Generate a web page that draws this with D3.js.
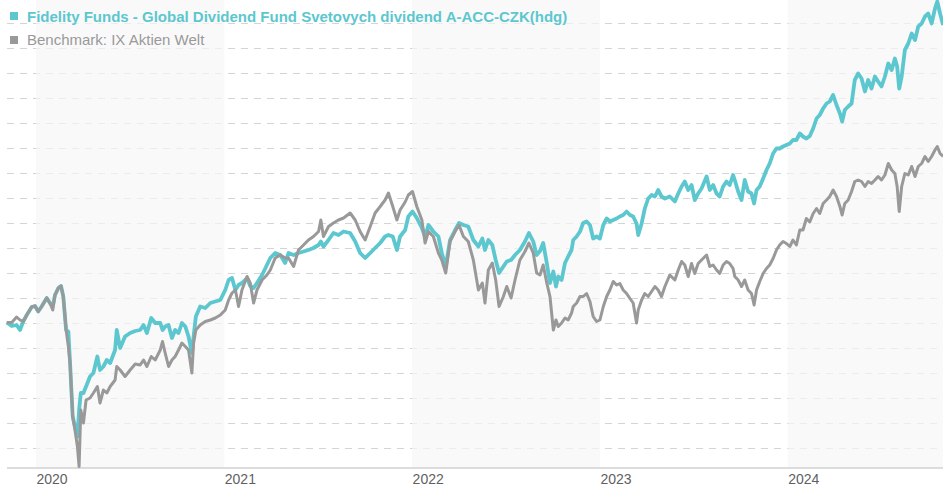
<!DOCTYPE html>
<html>
<head>
<meta charset="utf-8">
<script src="https://cdn.jsdelivr.net/npm/d3@7"></script>
<style>
  body { margin: 0; background: #fff; }
  svg { display: block; font-family: "Liberation Sans", Arial, sans-serif; }
</style>
</head>
<body>
<svg class="perf-chart"></svg>
<script>
// dates as decimal years
var dates = [2019.844, 2019.871, 2019.897, 2019.915, 2019.932, 2019.951, 2019.977, 2019.995, 2020.012, 2020.030,
  2020.057, 2020.074, 2020.089, 2020.101, 2020.119, 2020.133, 2020.145, 2020.160, 2020.172, 2020.181,
  2020.195, 2020.207, 2020.220, 2020.229, 2020.238, 2020.252, 2020.266, 2020.287, 2020.305, 2020.326,
  2020.340, 2020.358, 2020.376, 2020.394, 2020.420, 2020.429, 2020.447, 2020.473, 2020.500, 2020.527,
  2020.553, 2020.571, 2020.589, 2020.612, 2020.633, 2020.660, 2020.672, 2020.686, 2020.704, 2020.722,
  2020.739, 2020.757, 2020.775, 2020.793, 2020.810, 2020.828, 2020.837, 2020.849, 2020.872, 2020.899,
  2020.926, 2020.952, 2020.979, 2021.005, 2021.023, 2021.041, 2021.059, 2021.076, 2021.094, 2021.121,
  2021.138, 2021.156, 2021.174, 2021.201, 2021.227, 2021.245, 2021.271, 2021.298, 2021.324, 2021.342,
  2021.369, 2021.395, 2021.422, 2021.448, 2021.475, 2021.502, 2021.514, 2021.528, 2021.555, 2021.581,
  2021.608, 2021.635, 2021.670, 2021.697, 2021.723, 2021.750, 2021.777, 2021.803, 2021.830, 2021.856,
  2021.874, 2021.897, 2021.919, 2021.936, 2021.963, 2021.980, 2022.002, 2022.025, 2022.052, 2022.069,
  2022.087, 2022.113, 2022.140, 2022.158, 2022.179, 2022.202, 2022.229, 2022.250, 2022.273, 2022.299,
  2022.326, 2022.353, 2022.374, 2022.388, 2022.406, 2022.427, 2022.445, 2022.463, 2022.486, 2022.504,
  2022.527, 2022.548, 2022.574, 2022.601, 2022.622, 2022.645, 2022.663, 2022.681, 2022.698, 2022.717,
  2022.734, 2022.752, 2022.766, 2022.778, 2022.796, 2022.814, 2022.831, 2022.849, 2022.858, 2022.876,
  2022.894, 2022.911, 2022.929, 2022.947, 2022.964, 2022.982, 2023.000, 2023.018, 2023.036, 2023.053,
  2023.071, 2023.089, 2023.106, 2023.124, 2023.142, 2023.160, 2023.177, 2023.195, 2023.204, 2023.222,
  2023.239, 2023.257, 2023.275, 2023.293, 2023.310, 2023.328, 2023.346, 2023.372, 2023.399, 2023.417,
  2023.435, 2023.452, 2023.470, 2023.488, 2023.505, 2023.523, 2023.541, 2023.568, 2023.585, 2023.603,
  2023.621, 2023.638, 2023.656, 2023.674, 2023.691, 2023.709, 2023.718, 2023.736, 2023.754, 2023.771,
  2023.789, 2023.807, 2023.821, 2023.834, 2023.851, 2023.869, 2023.887, 2023.904, 2023.922, 2023.940,
  2023.957, 2023.975, 2023.993, 2024.011, 2024.028, 2024.046, 2024.064, 2024.081, 2024.099, 2024.117,
  2024.135, 2024.153, 2024.170, 2024.188, 2024.206, 2024.223, 2024.241, 2024.259, 2024.277, 2024.289,
  2024.303, 2024.321, 2024.339, 2024.356, 2024.374, 2024.392, 2024.410, 2024.427, 2024.445, 2024.463,
  2024.480, 2024.498, 2024.516, 2024.534, 2024.552, 2024.569, 2024.581, 2024.592, 2024.605, 2024.622,
  2024.640, 2024.658, 2024.676, 2024.693, 2024.711, 2024.729, 2024.746, 2024.764, 2024.782, 2024.794,
  2024.809, 2024.825];

// fund, indexed to 100
var fund = [100.1, 99.4, 99.6, 98.6, 100.3, 101.6, 103.2, 103.4, 102.3, 103.3,
  105.0, 104.0, 103.3, 105.6, 107.0, 107.4, 105.3, 98.6, 98.3, 92.0,
  81.3, 79.3, 77.3, 82.6, 86.0, 86.0, 87.3, 89.3, 90.0, 93.3,
  90.6, 91.3, 92.6, 92.0, 94.6, 98.6, 95.0, 97.3, 98.0, 98.4,
  98.6, 99.6, 98.0, 101.0, 100.0, 100.0, 98.6, 99.3, 99.6, 97.0,
  98.6, 98.0, 100.0, 99.3, 97.3, 94.0, 97.3, 101.3, 103.3, 103.0,
  104.0, 104.3, 104.6, 106.6, 108.6, 109.0, 106.6, 107.6, 108.0, 109.0,
  107.4, 107.0, 108.0, 109.6, 111.6, 113.0, 114.0, 113.6, 112.0, 114.0,
  113.6, 114.0, 114.3, 114.6, 115.0, 115.6, 116.3, 115.3, 116.6, 118.0,
  117.6, 118.3, 118.0, 116.3, 114.0, 113.0, 114.0, 115.0, 116.0, 117.3,
  117.6, 117.3, 114.6, 117.3, 118.6, 121.3, 122.3, 121.0, 119.0, 117.3,
  119.6, 118.3, 117.3, 114.0, 111.3, 116.6, 118.6, 120.0, 119.6, 119.3,
  116.6, 115.3, 116.9, 114.6, 116.6, 115.6, 112.6, 110.0, 111.3, 112.3,
  112.6, 113.6, 114.6, 116.3, 118.0, 116.3, 113.6, 114.4, 116.0, 112.0,
  108.0, 110.3, 107.3, 109.3, 108.6, 112.0, 113.3, 114.6, 116.6, 117.3,
  118.3, 120.0, 120.3, 119.6, 116.9, 117.3, 116.9, 119.6, 120.9, 120.3,
  120.6, 120.9, 121.3, 121.6, 122.3, 121.6, 121.3, 119.9, 117.6, 119.9,
  122.9, 124.9, 125.6, 125.3, 126.6, 125.3, 124.9, 125.3, 124.3, 125.9,
  127.3, 128.3, 126.6, 127.6, 124.6, 125.9, 126.9, 129.3, 126.6, 127.6,
  125.9, 125.3, 127.3, 128.3, 127.6, 129.6, 128.6, 126.3, 124.6, 128.6,
  126.3, 125.9, 123.9, 126.6, 127.3, 128.9, 130.6, 131.9, 133.9, 134.9,
  134.9, 135.3, 135.6, 135.9, 136.6, 136.6, 137.9, 137.3, 136.9, 137.4,
  138.9, 140.9, 141.6, 142.9, 143.9, 144.3, 145.6, 143.6, 141.9, 140.3,
  142.6, 143.3, 143.9, 148.6, 149.9, 148.9, 146.3, 148.6, 146.9, 149.3,
  148.3, 147.3, 149.3, 151.9, 150.6, 152.9, 151.3, 146.9, 149.3, 154.6,
  155.9, 157.9, 156.6, 159.3, 159.9, 161.3, 161.9, 159.9, 162.9, 164.3,
  161.9, 159.6];

// benchmark, indexed to 100
var bench = [100.1, 100.1, 101.2, 100.6, 100.3, 101.6, 103.2, 103.4, 102.3, 103.3,
  105.0, 104.0, 102.6, 105.6, 107.0, 107.4, 105.3, 98.6, 95.3, 92.0,
  81.3, 78.6, 75.3, 71.3, 82.6, 80.0, 84.6, 85.0, 86.0, 87.3,
  84.0, 86.6, 86.0, 87.3, 88.6, 91.3, 90.6, 89.3, 90.6, 91.8,
  91.6, 92.6, 91.3, 93.3, 92.6, 94.6, 96.3, 94.0, 91.3, 92.6,
  93.3, 94.6, 96.0, 95.3, 94.6, 90.0, 96.0, 98.6, 99.6, 100.3,
  100.6, 101.0, 101.6, 102.6, 104.6, 106.0, 106.6, 103.3, 106.6, 109.3,
  108.0, 104.0, 106.6, 108.6, 109.6, 110.6, 113.0, 113.6, 113.0, 113.0,
  111.3, 114.6, 115.6, 116.6, 117.3, 118.3, 120.6, 117.3, 119.3, 120.0,
  120.6, 121.0, 122.0, 120.6, 118.3, 116.6, 119.3, 122.0, 123.3, 124.6,
  126.0, 123.3, 120.6, 122.6, 124.2, 125.6, 126.3, 123.3, 120.6, 116.0,
  118.3, 117.3, 114.0, 112.6, 110.0, 116.3, 118.3, 119.6, 117.3, 116.3,
  112.6, 106.6, 108.0, 104.0, 110.6, 112.0, 108.6, 103.3, 105.3, 107.3,
  105.0, 108.6, 112.6, 114.3, 116.0, 114.0, 110.0, 109.6, 111.6, 108.0,
  105.3, 98.6, 100.6, 99.3, 100.0, 101.0, 100.6, 102.0, 103.3, 104.0,
  105.3, 105.3, 105.9, 104.3, 101.3, 100.3, 100.6, 103.3, 105.3, 106.6,
  108.3, 107.6, 107.9, 106.6, 105.9, 104.9, 104.0, 100.0, 102.6, 104.6,
  105.9, 105.3, 106.3, 107.3, 106.6, 105.3, 107.3, 109.6, 108.6, 110.6,
  112.3, 111.6, 109.3, 111.9, 109.9, 111.9, 112.6, 113.6, 111.3, 111.6,
  110.6, 109.9, 111.6, 112.3, 111.9, 110.9, 109.3, 108.6, 107.3, 108.6,
  106.6, 105.9, 103.6, 106.6, 108.3, 109.9, 110.9, 111.6, 112.9, 114.6,
  115.6, 116.3, 115.9, 115.3, 116.6, 115.6, 118.6, 118.6, 120.9, 120.2,
  121.9, 122.9, 121.9, 123.9, 124.6, 125.3, 126.6, 125.3, 123.3, 121.6,
  123.9, 124.6, 126.3, 128.3, 128.6, 128.3, 127.3, 128.3, 127.9, 128.6,
  129.3, 128.6, 129.6, 131.9, 130.6, 129.9, 127.3, 122.3, 127.3, 129.9,
  129.6, 131.3, 129.3, 131.3, 131.9, 133.3, 132.3, 133.3, 134.6, 135.3,
  133.9, 133.3];

var gridValues = d3.range(75, 161, 5);
var yearTicks = [2020, 2021, 2022, 2023, 2024];
var shadedYears = [2020, 2022, 2024];

var fundName = "Fidelity Funds - Global Dividend Fund Svetovych dividend A-ACC-CZK(hdg)";
var benchName = "Benchmark: IX Aktien Welt";
var fundColor = "#5cc7cf", benchColor = "#999999";

var svgWidth = 943, svgHeight = 487;
var plotLeft = 7, plotRight = 943, plotTop = 0, plotBottom = 468;

// decimal year -> Date
function toDate(t) {
  var y = Math.floor(t);
  var a = new Date(y, 0, 1).getTime(), b = new Date(y + 1, 0, 1).getTime();
  return new Date(a + (t - y) * (b - a));
}

var svg = d3.select('.perf-chart')
  .attr("width", svgWidth)
  .attr("height", svgHeight);

var xScale = d3.scaleTime()
  .domain([toDate(2019.8457), toDate(2024.8245)])
  .range([plotLeft, plotRight]);

var yScale = d3.scaleLinear()
  .domain([71, 164.6])
  .range([plotBottom, plotTop]);

// dashed grid
svg.append("g")
  .selectAll("line")
  .data(gridValues)
  .enter()
  .append("line")
  .attr("x1", plotLeft)
  .attr("x2", plotRight)
  .attr("y1", function (d) { return Math.round(yScale(d)) + 0.5; })
  .attr("y2", function (d) { return Math.round(yScale(d)) + 0.5; })
  .attr("stroke", "#d4d4d4")
  .attr("stroke-dasharray", "7,6");

// alternating year bands
svg.append("g")
  .selectAll("rect")
  .data(shadedYears)
  .enter()
  .append("rect")
  .attr("x", function (d) { return xScale(toDate(d)); })
  .attr("y", plotTop)
  .attr("width", function (d) {
    return Math.min(xScale(toDate(d + 1)), plotRight) - xScale(toDate(d));
  })
  .attr("height", plotBottom - plotTop)
  .attr("fill", "#f6f6f6")
  .attr("opacity", 0.7);

// x axis
var x_axis = d3.axisBottom()
  .scale(xScale)
  .tickValues(yearTicks.map(toDate))
  .tickSize(0)
  .tickFormat(d3.timeFormat("%Y"));

var xAxisG = svg.append("g")
  .attr("transform", "translate(0, " + plotBottom + ")")
  .call(x_axis);

xAxisG.select(".domain").remove();
xAxisG.selectAll("text")
  .attr("text-anchor", "start")
  .attr("dy", "0.71em")
  .attr("y", 6)
  .attr("fill", "#5f5f5f")
  .style("font-size", "14px")
  .style("font-family", "'Liberation Sans', Arial, sans-serif");

svg.append("line")
  .attr("x1", plotLeft)
  .attr("x2", plotRight)
  .attr("y1", plotBottom)
  .attr("y2", plotBottom)
  .attr("stroke", "#dcdcdc")
  .attr("stroke-width", 2);

// lines
var line = d3.line()
  .x(function (d) { return xScale(toDate(d[0])); })
  .y(function (d) { return yScale(d[1]); });

svg.append("path")
  .datum(d3.zip(dates, fund))
  .attr("d", line)
  .attr("fill", "none")
  .attr("stroke", fundColor)
  .attr("stroke-width", 3.8)
  .attr("stroke-linejoin", "round");

svg.append("path")
  .datum(d3.zip(dates, bench))
  .attr("d", line)
  .attr("fill", "none")
  .attr("stroke", benchColor)
  .attr("stroke-width", 3)
  .attr("stroke-linejoin", "round");

// legend
var legend = svg.append("g");

legend.append("rect")
  .attr("x", 10).attr("y", 12).attr("width", 8).attr("height", 8)
  .attr("fill", fundColor);
legend.append("text")
  .attr("x", 27).attr("y", 22)
  .attr("fill", fundColor)
  .style("font-size", "15px")
  .style("font-weight", "bold")
  .text(fundName);

legend.append("rect")
  .attr("x", 10).attr("y", 36).attr("width", 8).attr("height", 8)
  .attr("fill", benchColor);
legend.append("text")
  .attr("x", 27).attr("y", 45)
  .attr("fill", benchColor)
  .style("font-size", "15px")
  .text(benchName);
</script>
</body>
</html>
